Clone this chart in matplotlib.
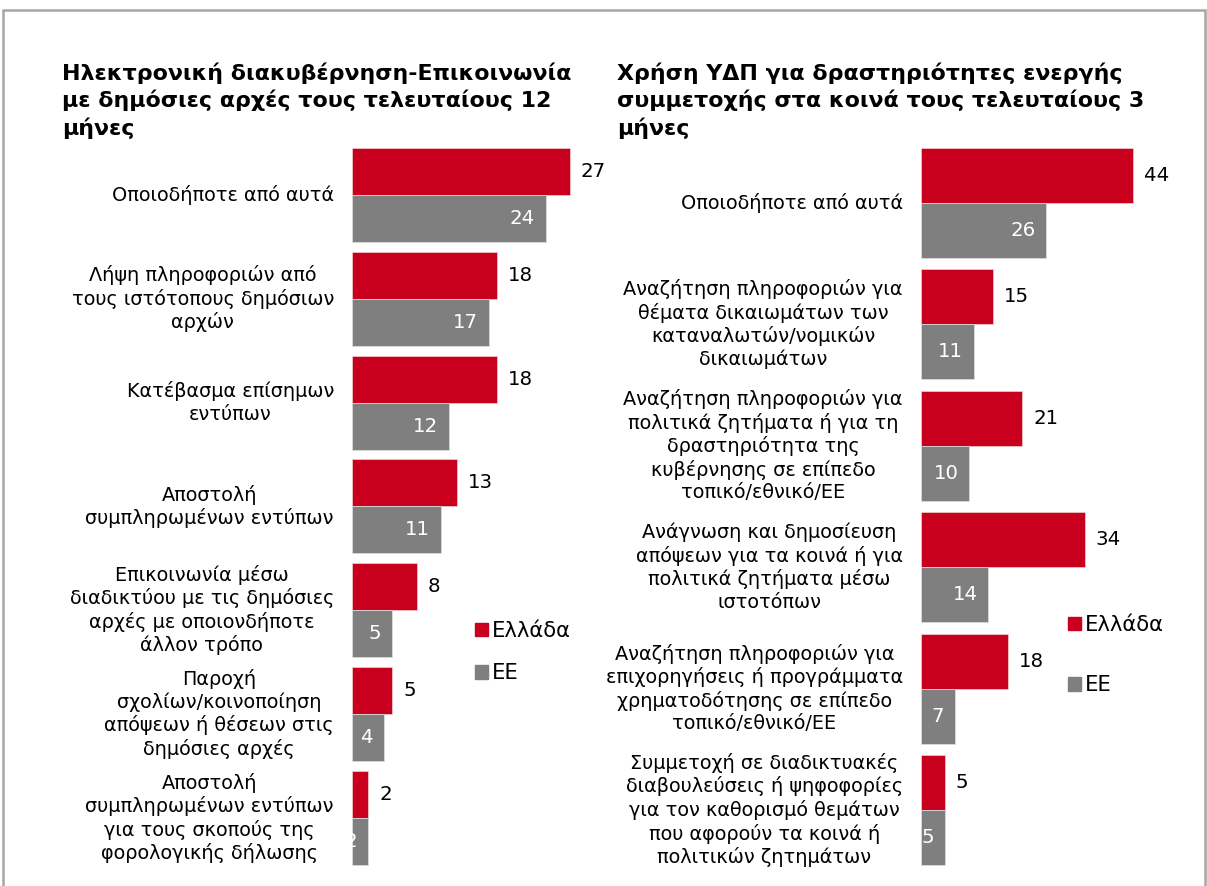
import numpy as np
import matplotlib
matplotlib.use('Agg')
import matplotlib.pyplot as plt
from matplotlib.patches import Patch, Rectangle

W, H = 1207, 886
RED = '#C8001E'
GRAY = '#7F7F7F'

title_left = 'Ηλεκτρονική διακυβέρνηση-Επικοινωνία\nμε δημόσιες αρχές τους τελευταίους 12\nμήνες'
title_right = 'Χρήση ΥΔΠ για δραστηριότητες ενεργής\nσυμμετοχής στα κοινά τους τελευταίους 3\nμήνες'

cats_left = [
    'Οποιοδήποτε από αυτά',
    'Λήψη πληροφοριών από\nτους ιστότοπους δημόσιων\nαρχών',
    'Κατέβασμα επίσημων\nεντύπων',
    'Αποστολή\nσυμπληρωμένων εντύπων',
    'Επικοινωνία μέσω\nδιαδικτύου με τις δημόσιες\nαρχές με οποιονδήποτε\nάλλον τρόπο',
    'Παροχή\nσχολίων/κοινοποίηση\nαπόψεων ή θέσεων στις\nδημόσιες αρχές',
    'Αποστολή\nσυμπληρωμένων εντύπων\nγια τους σκοπούς της\nφορολογικής δήλωσης',
]
greece_left = [27, 18, 18, 13, 8, 5, 2]
eu_left = [24, 17, 12, 11, 5, 4, 2]

cats_right = [
    'Οποιοδήποτε από αυτά',
    'Αναζήτηση πληροφοριών για\nθέματα δικαιωμάτων των\nκαταναλωτών/νομικών\nδικαιωμάτων',
    'Αναζήτηση πληροφοριών για\nπολιτικά ζητήματα ή για τη\nδραστηριότητα της\nκυβέρνησης σε επίπεδο\nτοπικό/εθνικό/ΕΕ',
    'Ανάγνωση και δημοσίευση\nαπόψεων για τα κοινά ή για\nπολιτικά ζητήματα μέσω\nιστοτόπων',
    'Αναζήτηση πληροφοριών για\nεπιχορηγήσεις ή προγράμματα\nχρηματοδότησης σε επίπεδο\nτοπικό/εθνικό/ΕΕ',
    'Συμμετοχή σε διαδικτυακές\nδιαβουλεύσεις ή ψηφοφορίες\nγια τον καθορισμό θεμάτων\nπου αφορούν τα κοινά ή\nπολιτικών ζητημάτων',
]
greece_right = [44, 15, 21, 34, 18, 5]
eu_right = [26, 11, 10, 14, 7, 5]

series_names = ['Ελλάδα', 'ΕΕ']

FS = 13.9
VFS = 14.2
LFS = 15.2


def px_rect(x0, y0, x1, y1):
    return [x0 / W, 1 - y1 / H, (x1 - x0) / W, (y1 - y0) / H]


fig = plt.figure(figsize=(W / 100, H / 100), dpi=100)

# outer frame
fig.patches.append(Rectangle((3 / W, -0.1), (1205 - 3) / W, 1.1 - 10 / H,
                             transform=fig.transFigure, fill=False,
                             edgecolor='#A6A6A6', lw=1.8, clip_on=False))


def draw_panel(rect, cats, gr, eu, xmax, title, title_x, leg_pos, leg_space):
    ax = fig.add_axes(rect)
    n = len(cats)
    y = np.arange(n)
    h = 0.453
    ax.barh(y - h / 2, gr, height=h, color=RED, edgecolor='#F0D0D0', lw=0.5)
    ax.barh(y + h / 2, eu, height=h, color=GRAY, edgecolor='#E0E0E0', lw=0.5)
    ax.set_xlim(0, xmax)
    ax.set_ylim(n - 0.5, -0.5)
    ax.set_yticks(y)
    ax.set_yticklabels(cats, fontsize=FS, ha='right', multialignment='center',
                       linespacing=1.22, va='center')
    ax.tick_params(axis='y', length=0, pad=13)
    ax.set_xticks([])
    for s in ax.spines.values():
        s.set_visible(False)
    off = xmax * 0.045
    for i in range(n):
        ax.text(gr[i] + off, y[i] - h / 2, str(gr[i]), fontsize=VFS,
                va='center', ha='left', color='black')
        ax.text(eu[i] - off, y[i] + h / 2, str(eu[i]), fontsize=VFS,
                va='center', ha='right', color='white')
    fig.text(title_x / W, 1 - 62 / H, title, fontsize=15.9, fontweight='bold',
             va='top', ha='left', linespacing=1.36)
    handles = [Patch(color=RED), Patch(color=GRAY)]
    fig.legend(handles, series_names, loc='upper left',
               bbox_to_anchor=(leg_pos[0] / W, 1 - leg_pos[1] / H),
               frameon=False, fontsize=LFS, handlelength=0.62, handleheight=0.62,
               handletextpad=0.2, labelspacing=leg_space, borderpad=0,
               borderaxespad=0)
    return ax


draw_panel(px_rect(352, 143.1, 352 + 8.07 * 30, 869.7), cats_left,
           greece_left, eu_left, 30, title_left, 62, (475, 621), 1.05)
draw_panel(px_rect(921, 142.3, 921 + 4.82 * 50, 870.7), cats_right,
           greece_right, eu_right, 50, title_right, 617, (1068, 615), 1.9)

fig.savefig('out.png', dpi=100)
